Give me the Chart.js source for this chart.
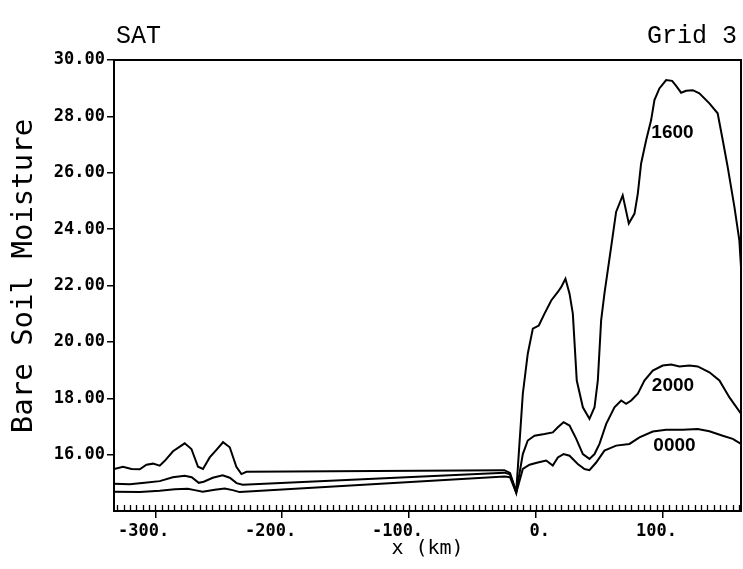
<!DOCTYPE html>
<html><head><meta charset="utf-8">
<script src="https://cdn.jsdelivr.net/npm/chart.js@4/dist/chart.umd.min.js"></script>
<style>html,body{margin:0;padding:0;background:#fff}canvas{display:block}</style>
</head><body>
<canvas id="c" width="743" height="569"></canvas>
<script>
// ---- data (x in km, y = bare soil moisture) ----
const x1600 = [-332.5,-325.4,-318.7,-312.2,-306.9,-301.7,-296.5,-292.5,-286.0,-276.8,-271.5,-266.3,-262.4,-257.1,-251.8,-246.6,-241.3,-236.1,-232.1,-228.2,-25,-20.5,-15.6,-10.4,-6.5,-2.5,2.2,6.7,12.0,17.2,19.8,23.2,26.4,29.0,32.1,36.9,42.1,46.1,48.7,51.3,53.9,59.2,63.1,68.3,73.1,77.6,80.2,82.8,86.8,90.7,93.3,97.2,102.5,107.2,110.4,114.3,118.3,123.5,128.7,136.6,143.1,147.1,151.0,156.3,160.2,161.5];
const y1600 = [15.49,15.57,15.49,15.48,15.64,15.68,15.61,15.78,16.12,16.40,16.20,15.57,15.49,15.90,16.17,16.44,16.26,15.57,15.31,15.39,15.45,15.35,14.68,18.16,19.58,20.47,20.58,21.0,21.47,21.77,21.94,22.24,21.71,21.0,18.63,17.68,17.27,17.68,18.63,20.76,21.71,23.37,24.61,25.20,24.20,24.55,25.26,26.33,27.16,27.87,28.58,28.99,29.29,29.26,29.08,28.84,28.91,28.93,28.82,28.46,28.11,27.16,26.21,24.79,23.60,22.65];
const x2000 = [-332.5,-320.1,-308.3,-296.5,-286.2,-276.8,-271.3,-265.7,-261.8,-254.7,-246.9,-241.3,-235.9,-231.1,-24.8,-20.5,-15.6,-10.4,-6.5,-1.2,6.7,13.2,17.2,21.7,26.4,31.7,36.9,42.1,46.1,50.0,55.3,61.8,67.1,71.0,75.0,80.2,85.4,92.0,99.8,106.5,113.0,120.9,127.4,136.6,144.5,152.4,161.5];
const y2000 = [14.97,14.95,15.00,15.06,15.20,15.25,15.20,15.00,15.04,15.18,15.27,15.18,14.99,14.93,15.36,15.30,14.66,16.02,16.50,16.67,16.73,16.79,16.97,17.15,17.03,16.56,16.02,15.85,16.02,16.38,17.09,17.68,17.92,17.80,17.92,18.16,18.63,18.98,19.16,19.20,19.13,19.16,19.13,18.92,18.63,18.03,17.45];
const x0000 = [-332.5,-312.2,-296.5,-284.6,-274.4,-268.9,-262.6,-253.1,-245.3,-239.0,-233.5,-24.8,-20.5,-15.6,-10.4,-5.1,1.4,8.0,13.2,17.2,21.7,26.4,32.9,38.2,42.1,47.4,53.9,63.1,73.6,81.5,92.0,102.5,115.6,127.4,136.6,147.1,155.0,161.5];
const y0000 = [14.68,14.67,14.72,14.77,14.79,14.74,14.68,14.75,14.80,14.74,14.67,15.22,15.20,14.64,15.49,15.64,15.72,15.79,15.61,15.90,16.02,15.96,15.67,15.49,15.45,15.72,16.14,16.32,16.38,16.61,16.82,16.88,16.88,16.91,16.83,16.67,16.56,16.38];

const seriesNames = ['1600','2000','0000'];
const labelX = [107.5, 107.9, 109.1];
const labelY = [27.42, 18.43, 16.30];

const xTicks = [-300, -200, -100, 0, 100];
const yTicks = [16, 18, 20, 22, 24, 26, 28, 30];
const xMin = -332.5, xMax = 161.5, xMinorStep = 5;
const yMin = 14, yMax = 30;
const titleLeft = 'SAT', titleRight = 'Grid 3';
const yTitle = 'Bare Soil Moisture', xTitle = 'x (km)';

const pts = (xs, ys) => xs.map((v, i) => ({x: v, y: ys[i]}));

const decor = {
  id: 'decor',
  afterDraw(chart) {
    const {ctx, chartArea: a, scales} = chart;
    const sx = scales.x, sy = scales.y;
    ctx.save();
    // frame
    ctx.strokeStyle = '#000'; ctx.lineWidth = 2;
    ctx.strokeRect(a.left, a.top, a.right - a.left, a.bottom - a.top);
    // minor ticks (grid points) along x axis, inward
    ctx.lineWidth = 1.3;
    ctx.beginPath();
    for (let v = Math.ceil(xMin / xMinorStep) * xMinorStep; v <= xMax; v += xMinorStep) {
      const px = Math.round(sx.getPixelForValue(v)) + 0.5;
      ctx.moveTo(px, a.bottom); ctx.lineTo(px, a.bottom - 6);
    }
    ctx.stroke();
    ctx.fillStyle = '#000';
    // curve labels
    ctx.font = 'bold 19px "Liberation Sans", Arial, sans-serif';
    ctx.textAlign = 'center'; ctx.textBaseline = 'middle';
    seriesNames.forEach((n, i) => {
      ctx.fillText(n, sx.getPixelForValue(labelX[i]), sy.getPixelForValue(labelY[i]));
    });
    // y axis title
    ctx.save();
    ctx.translate(24, 276);
    ctx.rotate(-Math.PI / 2);
    ctx.font = '29px "DejaVu Sans Mono", monospace';
    ctx.fillText(yTitle, 0, 0);
    ctx.restore();
    // top titles
    ctx.font = '25px "Liberation Mono", "Courier New", monospace';
    ctx.textBaseline = 'alphabetic';
    ctx.textAlign = 'left';
    ctx.fillText(titleLeft, a.left + 2, 43);
    ctx.textAlign = 'right';
    ctx.fillText(titleRight, a.right - 4, 43);
    ctx.restore();
  }
};

const mono = '"DejaVu Sans Mono", monospace';
new Chart(document.getElementById('c'), {
  type: 'scatter',
  data: {
    datasets: [
      {label: '1600', data: pts(x1600, y1600)},
      {label: '2000', data: pts(x2000, y2000)},
      {label: '0000', data: pts(x0000, y0000)}
    ].map(d => Object.assign(d, {showLine: true, borderColor: '#000', borderWidth: 2, pointRadius: 0, tension: 0, fill: false}))
  },
  options: {
    responsive: false, animation: false, devicePixelRatio: 1,
    layout: {padding: {top: 60, right: 2, left: 0, bottom: 0}},
    plugins: {legend: {display: false}, tooltip: {enabled: false}},
    scales: {
      x: {
        type: 'linear', min: xMin, max: xMax,
        afterBuildTicks: s => { s.ticks = xTicks.map(v => ({value: v})); },
        afterFit: s => { s.height = 58; },
        border: {display: true, color: '#000', width: 2},
        grid: {drawOnChartArea: false, drawTicks: true, tickLength: 7, color: '#000', lineWidth: 1.5},
        ticks: {autoSkip: false, maxRotation: 0, align: 'end', labelOffset: 14, padding: 3,
          color: '#000', font: {family: mono, size: 17, weight: 'bold'},
          callback: v => v + '.'},
        title: {display: true, text: xTitle, color: '#000', font: {family: mono, size: 20}, padding: {top: 0, bottom: 8}}
      },
      y: {
        type: 'linear', min: yMin, max: yMax,
        afterBuildTicks: s => { s.ticks = yTicks.map(v => ({value: v})); },
        afterFit: s => { s.width = 114; },
        border: {display: true, color: '#000', width: 2},
        grid: {drawOnChartArea: false, drawTicks: true, tickLength: 7, lineWidth: 1.5, color: '#000'},
        ticks: {autoSkip: false, padding: 2, color: '#000',
          font: {family: mono, size: 17, weight: 'bold'},
          callback: v => v.toFixed(2)}
      }
    }
  },
  plugins: [decor]
});
</script>
</body></html>
